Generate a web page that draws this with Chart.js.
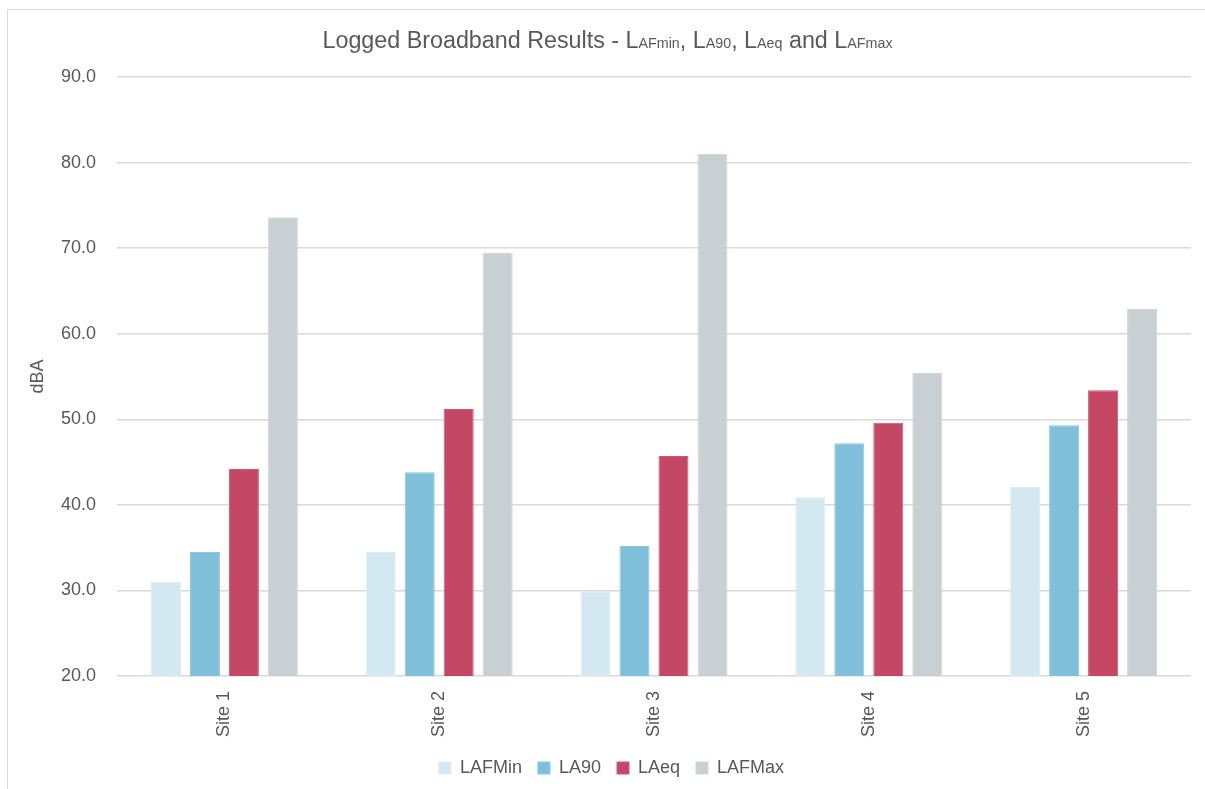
<!DOCTYPE html>
<html>
<head>
<meta charset="utf-8">
<title>Logged Broadband Results</title>
<script src="https://cdn.jsdelivr.net/npm/chart.js@4/dist/chart.umd.min.js"></script>
<style>
  html, body { margin: 0; padding: 0; background: #ffffff; }
  #wrap { width: 1205px; height: 789px; position: relative; }
</style>
</head>
<body>
<div id="wrap"><canvas id="chart" width="1205" height="789"></canvas></div>
<script>
// Measurement sites and logged levels (dBA)
const sites = ['Site 1', 'Site 2', 'Site 3', 'Site 4', 'Site 5'];
const seriesNames = ['LAFMin', 'LA90', 'LAeq', 'LAFMax'];
const lafMin = [31.0, 34.5, 29.9, 40.9, 42.1];
const la90   = [34.5, 43.8, 35.2, 47.2, 49.3];
const laEq   = [44.2, 51.2, 45.7, 49.6, 53.4];
const lafMax = [73.6, 69.5, 81.0, 55.4, 62.9];
const yTicks = [20, 30, 40, 50, 60, 70, 80, 90];

// Title split into normal "L" and smaller subscript-style parts
const titleParts = [
  ['Logged Broadband Results - ', 'n'], ['L', 'n'], ['AFmin', 's'], [', ', 'n'],
  ['L', 'n'], ['A90', 's'], [', ', 'n'], ['L', 'n'], ['Aeq', 's'], [' and ', 'n'],
  ['L', 'n'], ['AFmax', 's']
];

const FONT = "'Liberation Sans', Arial, sans-serif";
const TEXT = '#595959';
const colors = ['#d3e8f1', '#7fbfda', '#c44766', '#c8d0d3'];
const edges  = ['#dcedf5', '#8ac6df', '#cc5874', '#d0d7da'];
const values = [lafMin, la90, laEq, lafMax];

// Outer frame and composite title
const framePlugin = {
  id: 'frame',
  beforeDraw(chart) {
    const ctx = chart.ctx;
    ctx.save();
    ctx.fillStyle = '#ffffff';
    ctx.fillRect(0, 0, chart.width, chart.height);
    ctx.strokeStyle = '#d9d9d9';
    ctx.lineWidth = 1;
    ctx.strokeRect(7.5, 9.5, chart.width - 6, chart.height - 6);
    ctx.restore();
  },
  afterDraw(chart) {
    const ctx = chart.ctx;
    ctx.save();
    ctx.fillStyle = TEXT;
    ctx.textBaseline = 'alphabetic';
    ctx.textAlign = 'left';
    const fonts = { n: '23.3px ' + FONT, s: '14.3px ' + FONT };
    let total = 0;
    titleParts.forEach(([t, k]) => { ctx.font = fonts[k]; total += ctx.measureText(t).width; });
    let x = 607.5 - total / 2;
    const baseline = 48;
    titleParts.forEach(([t, k]) => {
      ctx.font = fonts[k];
      ctx.fillText(t, x, baseline);
      x += ctx.measureText(t).width;
    });
    ctx.restore();
  }
};

const datasets = seriesNames.map((name, i) => ({
  label: name,
  data: values[i],
  backgroundColor: colors[i],
  borderColor: edges[i],
  borderWidth: 1,
  categoryPercentage: 0.726,
  barPercentage: 0.77
}));

new Chart(document.getElementById('chart'), {
  type: 'bar',
  data: { labels: sites, datasets },
  plugins: [framePlugin],
  options: {
    responsive: false,
    animation: false,
    layout: { padding: { top: 77, left: 32, right: 14, bottom: 2 } },
    plugins: {
      title: { display: false },
      tooltip: { enabled: false },
      legend: {
        position: 'bottom',
        labels: {
          boxWidth: 12,
          boxHeight: 12,
          padding: 16,
          color: TEXT,
          font: { family: FONT, size: 18 }
        }
      }
    },
    scales: {
      x: {
        grid: { display: false },
        border: { display: false },
        ticks: {
          color: TEXT,
          font: { family: FONT, size: 18 },
          minRotation: 90,
          maxRotation: 90,
          padding: 7
        },
        afterFit(scale) { scale.height = 67; }
      },
      y: {
        min: 20,
        max: 90,
        afterBuildTicks(scale) { scale.ticks = yTicks.map(v => ({ value: v })); },
        grid: { color: '#d9d9d9', lineWidth: 1.5, drawTicks: false },
        border: { display: false },
        ticks: {
          color: TEXT,
          font: { family: FONT, size: 18 },
          padding: 21,
          callback: v => Number(v).toFixed(1)
        },
        title: {
          display: true,
          text: 'dBA',
          color: TEXT,
          font: { family: FONT, size: 18 },
          padding: { top: -5, bottom: 0 }
        },
        afterFit(scale) { scale.width = 85; }
      }
    }
  }
});
</script>
</body>
</html>
